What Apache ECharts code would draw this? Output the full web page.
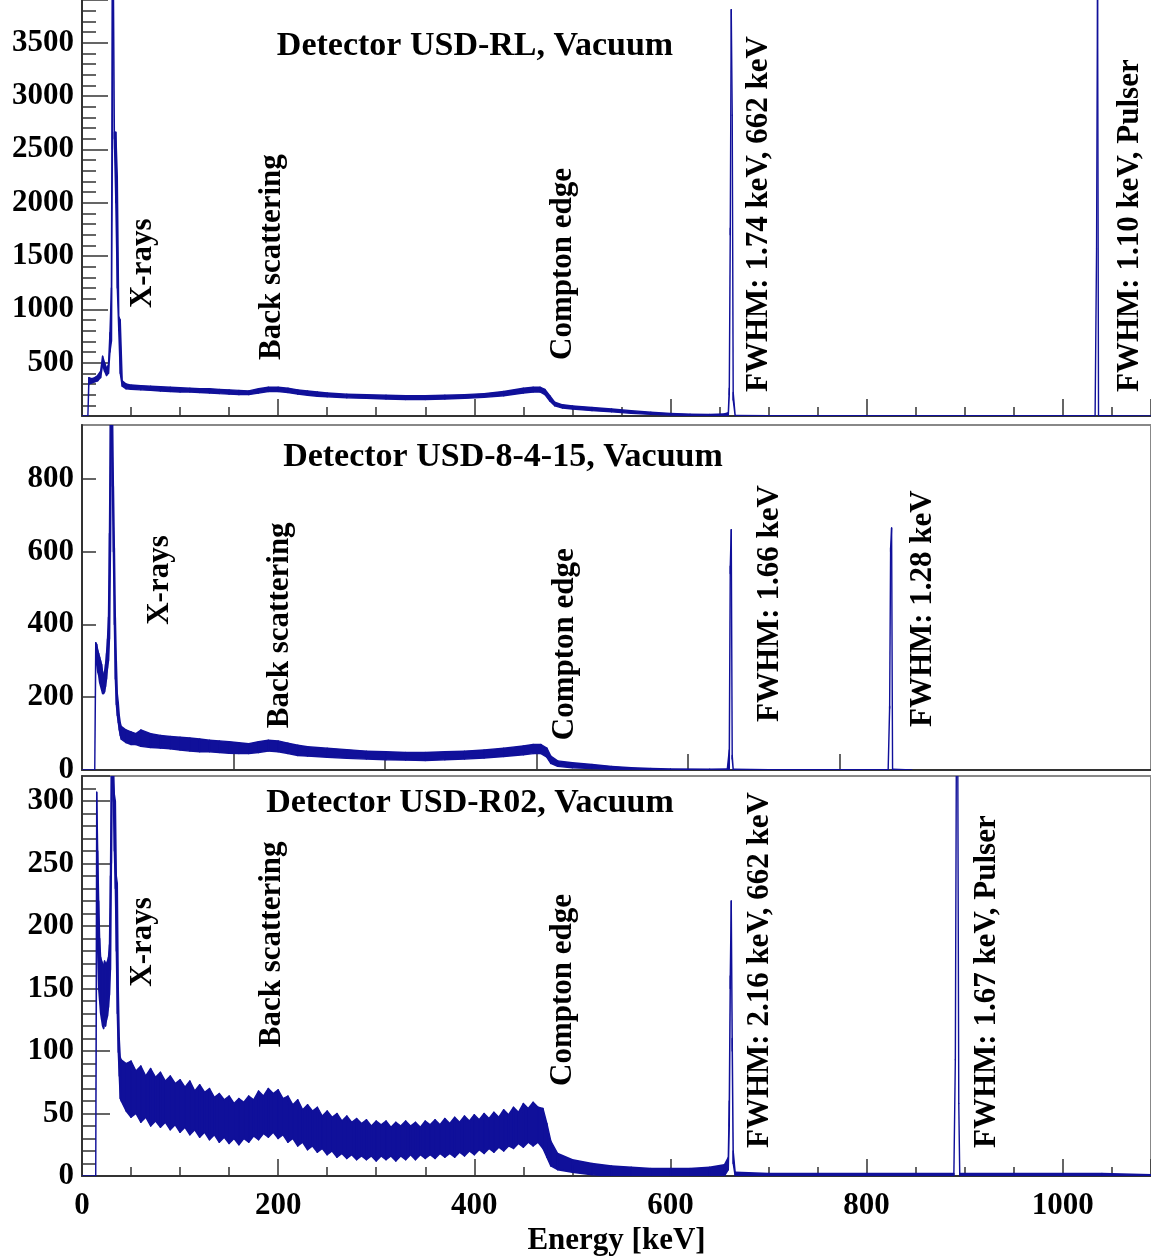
<!DOCTYPE html>
<html><head><meta charset="utf-8">
<script src="https://cdn.jsdelivr.net/npm/echarts/dist/echarts.min.js"></script>
<style>html,body{margin:0;padding:0;background:#fff}#c{width:1151px;height:1257px}</style>
</head><body><div id="c"></div><script>
// ---------- DATA (energy in keV, counts as lower / upper edge of the noisy trace) ----------
const rlEnergy = [0, 6, 7, 10, 13, 16, 19, 21, 23, 25, 27, 28.5, 30, 31, 32, 33, 34.5, 36, 37.5, 39, 41, 45, 50, 60, 70, 80, 90, 100, 110, 120, 130, 140, 150, 160, 170, 180, 190, 200, 210, 220, 230, 240, 250, 270, 290, 310, 330, 350, 370, 390, 410, 430, 450, 460, 467, 472, 477, 482, 490, 500, 520, 540, 560, 580, 600, 620, 640, 655, 659, 660, 661, 662, 663, 664, 666, 700, 800, 900, 1000, 1033, 1034.5, 1035.5, 1036.5, 1090];
const rlLow    = [0, 0, 300, 310, 320, 330, 360, 480, 420, 380, 400, 600, 700, 2500, 4100, 2600, 2000, 1200, 800, 400, 280, 255, 250, 245, 240, 235, 230, 225, 225, 220, 215, 210, 205, 200, 200, 215, 230, 230, 220, 205, 195, 185, 180, 170, 165, 160, 155, 155, 160, 165, 175, 190, 215, 225, 225, 200, 140, 95, 75, 65, 50, 40, 25, 15, 10, 5, 5, 5, 5, 200, 1700, 3810, 2820, 150, 0, 0, 0, 0, 0, 0, 1566, 4100, 0, 0];
const rlHigh   = [0, 0, 360, 350, 360, 380, 420, 560, 500, 450, 480, 780, 1200, 4100, 4100, 2660, 2660, 2240, 930, 900, 330, 300, 290, 285, 280, 275, 270, 265, 260, 255, 255, 250, 245, 240, 235, 255, 270, 270, 260, 245, 235, 225, 215, 205, 200, 195, 190, 190, 195, 200, 210, 230, 260, 270, 270, 250, 190, 130, 105, 95, 80, 65, 50, 35, 25, 18, 15, 20, 30, 260, 1760, 3810, 2820, 220, 5, 3, 2, 2, 2, 2, 1566, 4100, 2, 0];

const m8Energy = [0, 13, 14, 15, 16, 17, 18, 19, 20, 21, 22, 23, 24, 25, 26, 27, 28, 29, 30, 31, 32, 33, 34, 35, 36, 37, 38, 39, 40, 45, 50, 55, 60, 70, 80, 90, 100, 110, 120, 130, 140, 150, 160, 170, 180, 190, 200, 210, 220, 230, 250, 270, 290, 310, 330, 350, 370, 390, 410, 430, 450, 460, 468, 474, 478, 485, 500, 520, 540, 560, 580, 600, 640, 658, 660, 661, 662, 663, 664, 700, 800, 822, 823.5, 824.5, 825.5, 826.5, 846];
const m8Low    = [0, 0, 300, 290, 270, 260, 240, 230, 220, 210, 210, 215, 230, 250, 280, 300, 360, 600, 1000, 780, 600, 400, 250, 180, 150, 130, 110, 95, 85, 75, 70, 70, 65, 62, 60, 58, 55, 52, 50, 50, 48, 46, 45, 45, 48, 52, 50, 45, 40, 38, 35, 32, 30, 28, 27, 26, 28, 30, 33, 37, 42, 45, 45, 35, 18, 10, 6, 4, 2, 1, 0, 0, 0, 0, 0, 540, 660, 30, 0, 0, 0, 0, 170, 600, 665, 0, 0];
const m8High   = [0, 0, 350, 345, 330, 320, 310, 300, 290, 270, 260, 270, 290, 320, 360, 420, 650, 1000, 1000, 1000, 780, 610, 420, 300, 210, 185, 150, 130, 120, 110, 105, 100, 110, 100, 95, 92, 90, 88, 85, 82, 80, 78, 75, 72, 78, 82, 80, 74, 68, 64, 60, 56, 52, 50, 48, 48, 50, 52, 55, 60, 66, 70, 70, 60, 38, 25, 20, 15, 10, 6, 4, 3, 2, 3, 55, 560, 660, 40, 2, 1, 1, 1, 175, 610, 665, 2, 0];
const m8Ticks  = [154.5, 309, 463.5, 618, 772.5];

const r02Energy = [0, 14, 15, 16, 17, 18, 19, 20, 21, 22, 23, 24, 25, 26, 27, 28, 29, 30, 31, 32, 33, 34, 35, 36, 37, 38, 39,
  40, 45, 50, 55, 60, 65, 70, 75, 80, 85,
  90, 95, 100, 105, 110, 115, 120, 125, 130, 135,
  140, 145, 150, 155, 160, 165, 170, 175, 180, 185,
  190, 195, 200, 205, 210, 215, 220, 225, 230, 235,
  240, 245, 250, 255, 260, 265, 270, 275, 280, 285,
  290, 295, 300, 305, 310, 315, 320, 325, 330, 335,
  340, 345, 350, 355, 360, 365, 370, 375, 380, 385,
  390, 395, 400, 405, 410, 415, 420, 425, 430, 435,
  440, 445, 450, 455, 460, 465, 470, 474, 478,
  485, 500, 520, 540, 560, 580, 600, 620, 640, 655, 659, 660, 661, 662, 663, 664, 666, 700, 800, 889, 890.5, 891.5, 893, 894, 895, 950, 1040, 1090];
const r02Low = [0, 0, 220, 180, 150, 140, 130, 125, 120, 118, 122, 120, 125, 128, 135, 145, 165, 250, 330, 300, 260, 230, 180, 130, 99, 80, 62,
  60, 52, 47, 50, 43, 47, 40, 44, 39, 43,
  37, 41, 35, 39, 33, 37, 31, 35, 29, 33,
  27, 31, 26, 30, 25, 30, 27, 32, 29, 34,
  31, 35, 30, 33, 27, 30, 24, 27, 21, 24,
  19, 22, 17, 20, 15, 18, 14, 17, 13, 16,
  13, 16, 12, 16, 13, 16, 12, 16, 13, 17,
  13, 17, 14, 17, 14, 18, 15, 18, 15, 19,
  16, 20, 17, 21, 18, 22, 19, 23, 20, 24,
  22, 26, 23, 27, 24, 27, 22, 15, 8,
  5, 3, 1, 0, 0, 0, 0, 0, 0, 0, 5, 40, 150, 220, 100, 10, 0, 0, 0, 0, 93, 330, 330, 58, 0, 0, 0, 0];
const r02High = [0, 0, 307, 260, 220, 190, 175, 172, 170, 168, 172, 170, 170, 172, 175, 185, 240, 330, 330, 330, 305, 300, 240, 234, 150, 110, 95,
  93, 90, 92, 84, 88, 80, 86, 79, 83, 76,
  80, 74, 77, 71, 76, 68, 73, 67, 70, 63,
  66, 61, 64, 58, 62, 59, 64, 61, 68, 64,
  70, 66, 69, 62, 64, 57, 61, 53, 57, 52,
  55, 48, 52, 47, 50, 44, 48, 43, 46, 42,
  45, 40, 44, 41, 44, 39, 43, 40, 44, 40,
  43, 39, 44, 41, 45, 41, 46, 42, 47, 43,
  48, 44, 49, 45, 50, 46, 51, 47, 53, 49,
  55, 51, 58, 54, 59, 55, 54, 42, 28,
  18, 13, 10, 8, 7, 6, 6, 6, 7, 9, 15, 60, 160, 220, 110, 20, 3, 2, 2, 2, 93, 330, 330, 58, 2, 2, 2, 1];

const panelTitles = ['Detector USD-RL, Vacuum', 'Detector USD-8-4-15, Vacuum', 'Detector USD-R02, Vacuum'];
const rlNotes  = ['X-rays', 'Back scattering', 'Compton edge', 'FWHM: 1.74 keV, 662 keV', 'FWHM: 1.10 keV, Pulser'];
const m8Notes  = ['X-rays', 'Back scattering', 'Compton edge', 'FWHM: 1.66 keV', 'FWHM: 1.28 keV'];
const r02Notes = ['X-rays', 'Back scattering', 'Compton edge', 'FWHM: 2.16 keV, 662 keV', 'FWHM: 1.67 keV, Pulser'];
const xTickLabels = [0, 200, 400, 600, 800, 1000];

// ---------- LAYOUT / STYLE ----------
const BLUE = '#10109a';
const FONT = '"Liberation Serif", "Times New Roman", serif';
const AX = '#333';
const lbl = {fontFamily: FONT, fontWeight: 'bold', fontSize: 31, color: '#000'};
// anchor of each rotated note (energy, counts at the text start)
const noteAnchors = [
  [[62, 1012], [194, 525], [490, 525], [690, 225], [1069, 225]],
  [[79.5, 399], [202, 115], [492, 82], [701.5, 132], [857.5, 118]],
  [[62, 151.5], [194, 103], [490.5, 72], [691, 22.4], [923, 22.4]]
];
const titleCenters = [[475, 46], [503, 457], [470, 803]];

function band(idx, E, lo, hi) {
  if (E.length !== lo.length || E.length !== hi.length) console.error('length mismatch', idx, E.length, lo.length, hi.length);
  return {
    type: 'custom', xAxisIndex: idx, yAxisIndex: idx, clip: true, silent: true,
    encode: {x: 0, y: [1, 2]},
    data: E.map((e, i) => [e, lo[i], hi[i]]),
    renderItem(params, api) {
      const i = params.dataIndex;
      if (i >= E.length - 1) return null;
      const pts = [api.coord([E[i], hi[i]]), api.coord([E[i + 1], hi[i + 1]]),
                   api.coord([E[i + 1], lo[i + 1]]), api.coord([E[i], lo[i]])];
      return {type: 'polygon', shape: {points: pts},
              style: {fill: BLUE, stroke: BLUE, lineWidth: 1.4, lineJoin: 'round'}};
    }
  };
}

const plainNum = v => String(v);
function xAxisBase(gi) {
  return {gridIndex: gi, type: 'value', min: 0, max: 1090, interval: 200,
    axisLine: {show: true, onZero: false, lineStyle: {color: AX, width: 2}},
    axisTick: {show: true, inside: true, length: 17, lineStyle: {color: AX, width: 1.5}},
    minorTick: {show: true, splitNumber: 4, length: 9, lineStyle: {color: AX, width: 1.5}},
    axisLabel: {show: false}, splitLine: {show: false}, minorSplitLine: {show: false}};
}
function yAxisBase(gi, max, interval, major, minor) {
  return {gridIndex: gi, type: 'value', min: 0, max: max, interval: interval,
    axisLine: {show: true, onZero: false, lineStyle: {color: AX, width: 2}},
    axisTick: {show: true, inside: true, length: major, lineStyle: {color: AX, width: 1.5}},
    minorTick: {show: minor > 0, splitNumber: 5, length: minor, lineStyle: {color: AX, width: 1.5}},
    axisLabel: Object.assign({margin: 8, showMaxLabel: false, formatter: plainNum}, lbl),
    splitLine: {show: false}, minorSplitLine: {show: false}};
}

const xa0 = xAxisBase(0);
const xa1 = xAxisBase(1);
xa1.interval = 154.5;
xa1.minorTick = {show: false};
xa1.axisTick = {show: true, inside: true, length: 16, customValues: m8Ticks, lineStyle: {color: AX, width: 1.5}};
const xa2 = xAxisBase(2);
xa2.axisLabel = Object.assign({show: true, margin: 14, customValues: xTickLabels, formatter: plainNum}, lbl);
xa2.name = 'Energy [keV]';
xa2.nameLocation = 'middle';
xa2.nameGap = 49;
xa2.nameTextStyle = Object.assign({}, lbl);

const ya0 = yAxisBase(0, 3900, 500, 26, 14);
ya0.axisLabel.showMinLabel = false;
const ya1 = yAxisBase(1, 948, 200, 14, 0);
const ya2 = yAxisBase(2, 320, 50, 28, 14);

const chart = echarts.init(document.getElementById('c'), null, {renderer: 'canvas'});
chart.setOption({
  animation: false,
  backgroundColor: '#fff',
  grid: [
    {left: 82, right: 0, top: 0, height: 416},
    {left: 82, right: 0, top: 425, height: 345, show: true, borderColor: '#888', borderWidth: 2},
    {left: 82, right: 0, top: 776, height: 415, show: true, borderColor: '#888', borderWidth: 2}
  ],
  xAxis: [xa0, xa1, xa2],
  yAxis: [ya0, ya1, ya2],
  series: [band(0, rlEnergy, rlLow, rlHigh), band(1, m8Energy, m8Low, m8High), band(2, r02Energy, r02Low, r02High)]
});

const notesAll = [rlNotes, m8Notes, r02Notes];
const graphics = [];
notesAll.forEach((notes, gi) => {
  notes.forEach((t, k) => {
    const p = chart.convertToPixel({gridIndex: gi}, noteAnchors[gi][k]);
    graphics.push({type: 'text', x: p[0], y: p[1], rotation: Math.PI / 2, silent: true, z: 10,
      style: {text: t, font: 'bold 31px ' + FONT, fill: '#000', align: 'left', verticalAlign: 'middle',
              textAlign: 'left', textVerticalAlign: 'middle'}});
  });
});
panelTitles.forEach((t, gi) => {
  graphics.push({type: 'text', x: titleCenters[gi][0], y: titleCenters[gi][1], silent: true, z: 10,
    style: {text: t, font: 'bold 34px ' + FONT, fill: '#000', align: 'center', verticalAlign: 'middle',
            textAlign: 'center', textVerticalAlign: 'middle'}});
});
chart.setOption({graphic: graphics});
</script></body></html>
